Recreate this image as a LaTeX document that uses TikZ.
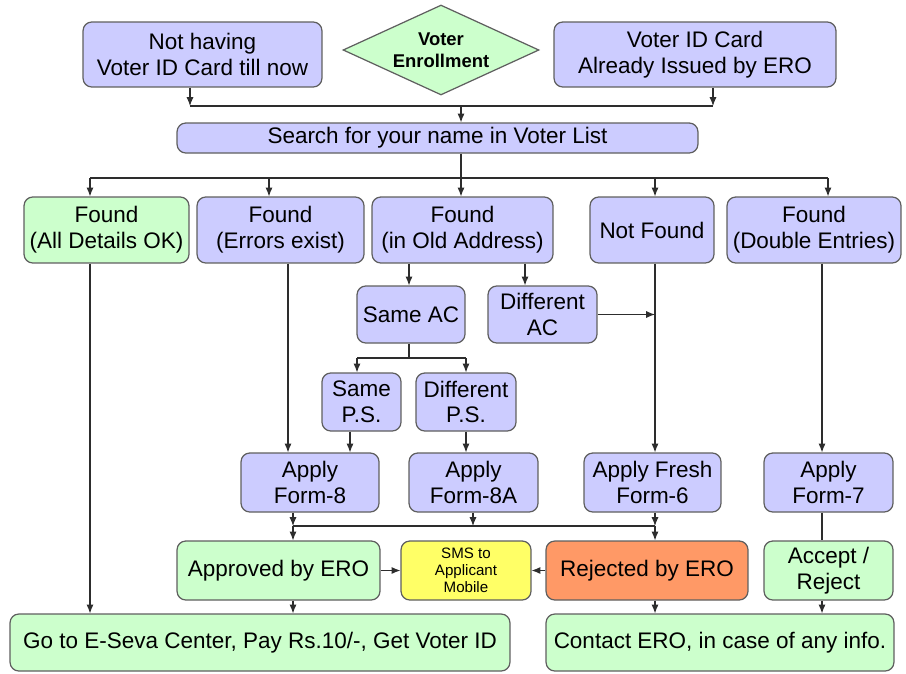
\documentclass[tikz,border=0pt]{standalone}
\usepackage{fontspec}
\setmainfont{Liberation Sans}
\usetikzlibrary{shapes.geometric,arrows.meta}
\definecolor{lav}{RGB}{204,204,255}
\definecolor{mint}{RGB}{204,255,204}
\definecolor{smsyel}{RGB}{255,255,102}
\definecolor{rejor}{RGB}{255,153,102}
\definecolor{boxline}{RGB}{95,95,95}
\definecolor{linec}{RGB}{45,45,45}
\tikzset{
  box/.style={draw=boxline, line width=0.7pt, rounded corners=5pt, fill=lav,
    align=center, inner sep=1pt, font=\fontsize{12.8}{14.7}\selectfont},
  gbox/.style={box, fill=mint},
  conn/.style={draw=linec, line width=0.6pt},
  arr/.style={conn, -{Latex[length=5pt,width=4pt]}},
}
\begin{document}
\begin{tikzpicture}[x=0.02cm,y=-0.02cm]
\useasboundingbox (0,0) rectangle (906,673);
\node[box,minimum width=4.78cm,minimum height=1.3cm] (nothave) at (202.5,54.5) {Not having\\Voter ID Card till now};
\node[diamond,draw=boxline,line width=0.7pt,fill=mint,shape aspect=2.2,minimum width=3.92cm,minimum height=1.8cm,inner sep=0pt,align=center,font=\bfseries\fontsize{10.5}{12.5}\selectfont] (enrol) at (441,50) {Voter\\Enrollment};
\node[box,minimum width=5.64cm,minimum height=1.3cm] (issued) at (695,54.5) {Voter ID Card\\Already Issued by ERO};
\node[box,minimum width=10.42cm,minimum height=0.6cm] (search) at (437.5,138) {Search for your name in Voter List};
\node[gbox,minimum width=3.3cm,minimum height=1.32cm] (ok) at (106.5,230) {Found\\(All Details OK)};
\node[box,minimum width=3.34cm,minimum height=1.32cm] (err) at (280.5,230) {Found\\(Errors exist)};
\node[box,minimum width=3.62cm,minimum height=1.32cm] (old) at (462.5,230) {Found\\(in Old Address)};
\node[box,minimum width=2.48cm,minimum height=1.32cm] (nf) at (652,230) {Not Found};
\node[box,minimum width=3.48cm,minimum height=1.32cm] (dbl) at (814,230) {Found\\(Double Entries)};
\node[box,minimum width=2.16cm,minimum height=1.14cm] (sameac) at (411,314.5) {Same AC};
\node[box,minimum width=2.18cm,minimum height=1.14cm] (diffac) at (542.5,314.5) {Different\\AC};
\node[box,minimum width=1.58cm,minimum height=1.16cm] (sameps) at (361.5,402) {Same\\P.S.};
\node[box,minimum width=2.0cm,minimum height=1.16cm] (diffps) at (466,402) {Different\\P.S.};
\node[box,minimum width=2.76cm,minimum height=1.18cm] (form8) at (310,482.5) {Apply\\Form-8};
\node[box,minimum width=2.58cm,minimum height=1.18cm] (form8a) at (473.5,482.5) {Apply\\Form-8A};
\node[box,minimum width=2.74cm,minimum height=1.18cm] (form6) at (652.5,482.5) {Apply Fresh\\Form-6};
\node[box,minimum width=2.58cm,minimum height=1.18cm] (form7) at (828.5,482.5) {Apply\\Form-7};
\node[gbox,minimum width=4.06cm,minimum height=1.18cm] (approved) at (278.5,570.5) {Approved by ERO};
\node[box,fill=smsyel,minimum width=2.6cm,minimum height=1.18cm,font=\fontsize{8.6}{9.8}\selectfont] (sms) at (466,570.5) {SMS to\\Applicant\\Mobile};
\node[box,fill=rejor,minimum width=4.04cm,minimum height=1.18cm] (rejected) at (647,570.5) {Rejected by ERO};
\node[gbox,minimum width=2.58cm,minimum height=1.18cm] (accept) at (828.5,570.5) {Accept /\\Reject};
\node[gbox,minimum width=10.0cm,minimum height=1.14cm] (goto) at (260,642.5) {Go to E-Seva Center, Pay Rs.10/-, Get Voter ID};
\node[gbox,minimum width=6.96cm,minimum height=1.14cm] (contact) at (720,642.5) {Contact ERO, in case of any info.};
\foreach \n/\x in {cA/90,cB/190,cC/269,cD/288,cE/293,cF/350,cG/357,cH/409,cI/461,cJ/466,cK/473,cL/525,cM/655,cN/713,cO/822,cP/828}
  \coordinate (\n) at (\x,0);
\foreach \n/\y in {rA/106,rB/178,rC/358,rD/526}
  \coordinate (\n) at (0,\y);
\draw[arr] (cB |- nothave.south) -- (cB |- rA);
\draw[arr] (cN |- issued.south) -- (cN |- rA);
\draw[conn] (cB |- rA) -- (cN |- rA);
\draw[arr] (cI |- rA) -- (cI |- search.north);
\draw[conn] (cI |- search.south) -- (cI |- rB);
\draw[conn] (cA |- rB) -- (cP |- rB);
\foreach \c/\n in {cA/ok,cC/err,cI/old,cM/nf,cP/dbl}
  \draw[arr] (\c |- rB) -- (\c |- \n.north);
\draw[arr] (cH |- old.south) -- (cH |- sameac.north);
\draw[arr] (cL |- old.south) -- (cL |- diffac.north);
\draw[arr] (diffac.east) -- (cM |- diffac.east);
\draw[conn] (cH |- sameac.south) -- (cH |- rC);
\draw[conn] (cG |- rC) -- (cJ |- rC);
\draw[arr] (cG |- rC) -- (cG |- sameps.north);
\draw[arr] (cJ |- rC) -- (cJ |- diffps.north);
\draw[arr] (cD |- err.south) -- (cD |- form8.north);
\draw[arr] (cF |- sameps.south) -- (cF |- form8.north);
\draw[arr] (cJ |- diffps.south) -- (cJ |- form8a.north);
\draw[arr] (cM |- nf.south) -- (cM |- form6.north);
\draw[arr] (cO |- dbl.south) -- (cO |- form7.north);
\foreach \c/\n in {cE/form8,cK/form8a,cM/form6}
  \draw[arr] (\c |- \n.south) -- (\c |- rD);
\draw[conn] (cE |- rD) -- (cM |- rD);
\draw[arr] (cE |- rD) -- (cE |- approved.north);
\draw[arr] (cM |- rD) -- (cM |- rejected.north);
\draw[conn] (cO |- form7.south) -- (cO |- accept.north);
\draw[arr] (approved) -- (sms);
\draw[arr] (rejected) -- (sms);
\draw[arr] (cA |- ok.south) -- (cA |- goto.north);
\draw[arr] (cE |- approved.south) -- (cE |- goto.north);
\draw[arr] (cM |- rejected.south) -- (cM |- contact.north);
\draw[arr] (cO |- accept.south) -- (cO |- contact.north);
\end{tikzpicture}
\end{document}
